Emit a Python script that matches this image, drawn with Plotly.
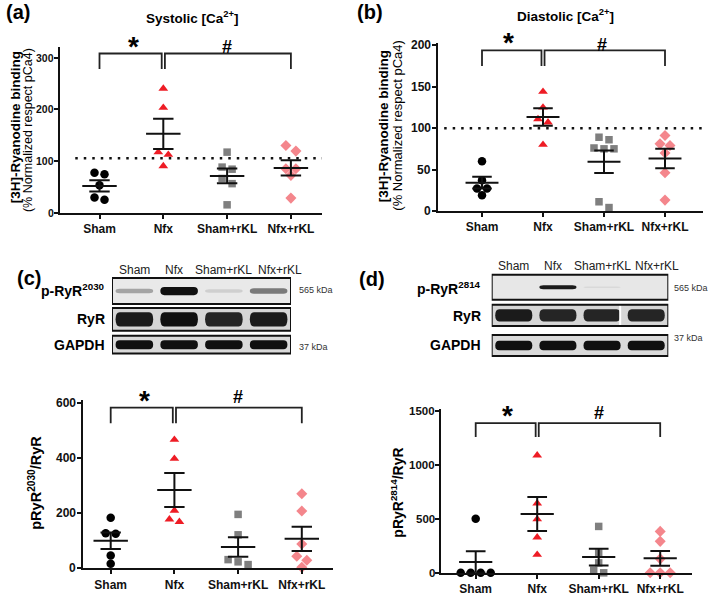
import numpy as np
import plotly.graph_objects as go

W, H = 709, 596
FONT = "Liberation Sans, Arial, Helvetica, sans-serif"

# ---------------- data ----------------
groups = ["Sham", "Nfx", "Sham+rKL", "Nfx+rKL"]

sys_sham = [77, 74, 53, 29, 25]
sys_nfx = [240, 203, 117, 112, 90]
sys_shamrkl = [117, 88, 84, 66, 56, 15]
sys_nfxrkl = [130, 119, 85, 85, 72, 28]

dia_sham = [60, 37, 27, 27, 19]
dia_nfx = [144, 125, 111, 107, 80]
dia_shamrkl = [89, 86, 76, 75, 75, 11, 4]
dia_nfxrkl = [91, 81, 79, 70, 46, 13]

p2030_sham = [184, 128, 126, 47, 17]
p2030_nfx = [467, 398, 210, 178, 169]
p2030_shamrkl = [196, 122, 32, 24, 14]
p2030_nfxrkl = [271, 208, 89, 44, 30, 4]

p2814_sham = [499, 0, 0, 0, 0]
p2814_nfx = [1087, 643, 496, 328, 168]
p2814_shamrkl = [429, 184, 92, 25, 0]
p2814_nfxrkl = [383, 291, 129, 0, 0, 0]

yticks_a = [0, 100, 200, 300]
yticks_b = [0, 50, 100, 150, 200]
yticks_c = [0, 200, 400, 600]
yticks_d = [0, 500, 1000, 1500]

# western blot band intensities (0 = none, 1 = saturated), per lane
blot_c_pryr = [0.30, 1.00, 0.10, 0.50]
blot_c_ryr = [0.95, 1.00, 0.90, 0.95]
blot_c_gapdh = [1.00, 1.00, 1.00, 1.00]
blot_d_pryr = [0.00, 0.95, 0.05, 0.00]
blot_d_ryr = [0.95, 0.90, 0.90, 0.90]
blot_d_gapdh = [1.00, 1.00, 1.00, 1.00]

# ---------------- style ----------------
COLORS = ["#000000", "#EE1C25", "#7F7F7F", "#F4868C"]
SYMBOLS = ["circle", "triangle-up", "square", "diamond"]
SIZES = [8.5, 8.5, 7.5, 8.5]
LANE_LABEL_SHIFT = [0.0, -0.12, 0.0, 0.25]


def px(x):
    return x / W


def py(y):
    return 1 - y / H


panels = [
    dict(data=[sys_sham, sys_nfx, sys_shamrkl, sys_nfxrkl], xpx=(59.5, 322), ybot=214, ppu=0.52,
         yr=(0, 320), cat0=99.5, dcat=63.8, ticks=yticks_a, ref=105, ref_x0=-0.38,
         br=(308, 278), star=(133, 46), hsh=(227, 47), tfs=10.5, tgap=3.5),
    dict(data=[dia_sham, dia_nfx, dia_shamrkl, dia_nfxrkl], xpx=(437.7, 703), ybot=212.3, ppu=0.833,
         yr=(0, 203), cat0=482, dcat=61, ticks=yticks_b, ref=100, ref_x0=-0.62,
         br=(194, 175), star=(508, 42), hsh=(602, 45), tfs=12, tgap=4.5),
    dict(data=[p2030_sham, p2030_nfx, p2030_shamrkl, p2030_nfxrkl], xpx=(82.7, 333), ybot=572.3, ppu=0.2777,
         yr=(0, 610), cat0=110.7, dcat=63.7, ticks=yticks_c, ref=None, ref_x0=None,
         br=(583, 526), star=(144, 402), hsh=(238, 400), tfs=12, tgap=4.5),
    dict(data=[p2814_sham, p2814_nfx, p2814_shamrkl, p2814_nfxrkl], xpx=(441, 691.7), ybot=576.7, ppu=0.1089,
         yr=(0, 1515), cat0=475.7, dcat=61.5, ticks=yticks_d, ref=None, ref_x0=None,
         br=(1384, 1255), star=(507, 417), hsh=(599, 416), tfs=11.5, tgap=4),
]


def swarm(vals, ppu, dcat, d_px=10.0, thr_px=6.5):
    order = sorted(range(len(vals)), key=lambda k: -vals[k])
    rows = []
    for k in order:
        if rows and abs(vals[rows[-1][0]] - vals[k]) * ppu < thr_px:
            rows[-1].append(k)
        else:
            rows.append([k])
    offs = [0.0] * len(vals)
    for r in rows:
        n = len(r)
        for j, k in enumerate(r):
            offs[k] = (j - (n - 1) / 2) * d_px / dcat
    return offs


fig = go.Figure()
layout = dict(width=W, height=H, margin=dict(l=0, r=0, t=0, b=0, pad=0), showlegend=False,
              paper_bgcolor="white", plot_bgcolor="white", font=dict(family=FONT, color="#000"))
annotations = []
shapes = []

for idx, p in enumerate(panels, start=1):
    xa, ya = f"x{idx}", f"y{idx}"
    xr = ((p["xpx"][0] - p["cat0"]) / p["dcat"], (p["xpx"][1] - p["cat0"]) / p["dcat"])
    ytop = p["ybot"] - (p["yr"][1] - p["yr"][0]) * p["ppu"]
    layout[f"xaxis{idx}"] = dict(domain=[px(p["xpx"][0]), px(p["xpx"][1])], range=list(xr), anchor=ya,
                                 tickvals=[0, 1, 2, 3], ticktext=groups, showline=True, linewidth=2,
                                 linecolor="#111", ticks="outside", ticklen=4, tickwidth=2, tickcolor="#111",
                                 showgrid=False, zeroline=False,
                                 tickfont=dict(family=FONT, size=12, weight="bold", color="#111"))
    layout[f"yaxis{idx}"] = dict(domain=[py(p["ybot"]), py(ytop)], range=list(p["yr"]), anchor=xa,
                                 tickvals=p["ticks"], showline=True, linewidth=2, linecolor="#111",
                                 ticks="outside", ticklen=4, tickwidth=2, tickcolor="#111",
                                 showgrid=False, zeroline=False, showticklabels=False)
    # y tick labels, placed right against the tick marks
    for tv in p["ticks"]:
        annotations.append(dict(text=f"<b>{tv}</b>", x=px(p["xpx"][0] - p["tgap"]), y=tv, xref="paper",
                                yref=ya, showarrow=False, xanchor="right", yanchor="middle",
                                font=dict(family=FONT, size=p["tfs"], color="#111")))
    # reference dotted line
    if p["ref"] is not None:
        fig.add_trace(go.Scatter(x=[p["ref_x0"], xr[1]], y=[p["ref"], p["ref"]], mode="lines",
                                 line=dict(color="#111", width=2.5, dash="2.5px,6px"),
                                 xaxis=xa, yaxis=ya, hoverinfo="skip"))
    for g, vals in enumerate(p["data"]):
        offs = swarm(vals, p["ppu"], p["dcat"])
        fig.add_trace(go.Scatter(x=[g + o for o in offs], y=vals, mode="markers",
                                 marker=dict(symbol=SYMBOLS[g], color=COLORS[g], size=SIZES[g],
                                             line=dict(width=0)),
                                 xaxis=xa, yaxis=ya, cliponaxis=False, name=groups[g]))
    for g, vals in enumerate(p["data"]):
        v = np.array(vals, dtype=float)
        m = v.mean()
        s = v.std(ddof=1) / np.sqrt(len(v))
        mh, ch = 0.27, 0.16
        fig.add_trace(go.Scatter(
            x=[g - mh, g + mh, None, g - ch, g + ch, None, g - ch, g + ch, None, g, g],
            y=[m, m, None, m + s, m + s, None, m - s, m - s, None, m - s, m + s],
            mode="lines", line=dict(color="#111", width=2), xaxis=xa, yaxis=ya,
            cliponaxis=False, hoverinfo="skip"))
    hi, lo = p["br"]
    fig.add_trace(go.Scatter(x=[0, 0, 0.975, 0.975, None, 1.025, 1.025, 3, 3],
                             y=[lo, hi, hi, lo, None, lo, hi, hi, lo], mode="lines",
                             line=dict(color="#222", width=1.8), xaxis=xa, yaxis=ya,
                             cliponaxis=False, hoverinfo="skip"))
    sx, sy = p["star"]
    annotations.append(dict(text="<b>*</b>", x=px(sx), y=py(sy + 1), xref="paper", yref="paper",
                            showarrow=False, font=dict(size=28, family=FONT), xanchor="center",
                            yanchor="middle"))
    hx, hy = p["hsh"]
    annotations.append(dict(text="<b>#</b>", x=px(hx), y=py(hy), xref="paper", yref="paper",
                            showarrow=False, font=dict(size=18, family=FONT), xanchor="center",
                            yanchor="middle"))


def ann(text, x, y, size, xanchor="center", angle=0, color="#000"):
    annotations.append(dict(text=text, x=px(x), y=py(y), xref="paper", yref="paper", showarrow=False,
                            font=dict(size=size, family=FONT, color=color), xanchor=xanchor,
                            yanchor="middle", textangle=angle))


# titles / panel letters / axis titles
ann("<b>Systolic [Ca<sup>2+</sup>]</b>", 192, 17, 13.5)
ann("<b>Diastolic [Ca<sup>2+</sup>]</b>", 565, 15, 13.5)
ann("<b>(a)</b>", 17.5, 12, 20)
ann("<b>(b)</b>", 369.5, 12, 20)
ann("<b>(c)</b>", 28.5, 280, 20)
ann("<b>(d)</b>", 372, 281, 20)
ann("<b>[3H]-Ryanodine binding</b>", 15, 128, 13.5, angle=-90)
ann("(% Normalized respect pCa4)", 28, 131, 12.5, angle=-90)
ann("<b>[3H]-Ryanodine binding</b>", 383, 127, 13.5, angle=-90)
ann("(% Normalized respect pCa4)", 397.5, 126, 13, angle=-90)
ann("<b>pRyR<sup>2030</sup>/RyR</b>", 35, 486, 14.5, angle=-90)
ann("<b>pRyR<sup>2814</sup>/RyR</b>", 397, 496, 14, angle=-90)

# ---------------- western blots ----------------
blots = [
    dict(ax=5, xpx=(112, 291), rows=[(280, 306), (310, 333), (338, 356)],
         bands=[blot_c_pryr, blot_c_ryr, blot_c_gapdh], thick=[0.32, 0.62, 0.5],
         bg=["#e9e9e9", "#d6d6d6", "#dadada"], lane_y=272,
         labels=["<b>p-RyR<sup>2030</sup></b>", "<b>RyR</b>", "<b>GAPDH</b>"], label_x=107,
         label_y=[292, 321.5, 347], kda=[("565 kDa", 297, 292), ("37 kDa", 297, 349)], splice=None),
    dict(ax=6, xpx=(491.7, 668.3), rows=[(276.7, 301.7), (306.7, 328.3), (337.3, 358.3)],
         bands=[blot_d_pryr, blot_d_ryr, blot_d_gapdh], thick=[0.16, 0.56, 0.45],
         bg=["#e7e7e7", "#d6d6d6", "#dadada"], lane_y=268,
         labels=["<b>p-RyR<sup>2814</sup></b>", "<b>RyR</b>", "<b>GAPDH</b>"], label_x=483,
         label_y=[290, 318, 347], kda=[("565 kDa", 672, 290), ("37 kDa", 672, 340)], splice=2.41),
]

for b in blots:
    a = b["ax"]
    xa, ya = f"x{a}", f"y{a}"
    layout[f"xaxis{a}"] = dict(domain=[px(b["xpx"][0]), px(b["xpx"][1])], range=[-0.5, 3.5],
                               visible=False, anchor=ya)
    layout[f"yaxis{a}"] = dict(domain=[py(b["rows"][-1][1]), py(b["rows"][0][0])], range=[0, 1],
                               visible=False, anchor=xa)
    fig.add_trace(go.Scatter(x=[None], y=[None], xaxis=xa, yaxis=ya, hoverinfo="skip"))
    for r, (y0, y1) in enumerate(b["rows"]):
        shapes.append(dict(type="rect", xref=xa, yref="paper", x0=-0.5, x1=3.5, y0=py(y1), y1=py(y0),
                           fillcolor=b["bg"][r], line=dict(width=0), layer="below"))
        yc = (y0 + y1) / 2
        rh = (y1 - y0)
        for lane, v in enumerate(b["bands"][r]):
            if v <= 0.02:
                continue
            t = rh * b["thick"][r] * ((0.35 + 0.65 * v) if r == 0 else 1.0)
            gl = int(round(228 - 212 * v))
            col = f"rgb({gl},{gl},{gl})"
            x0, x1 = lane - 0.42, lane + 0.42
            rr = 0.09
            ya0, ya1, yam = py(yc + t / 2), py(yc - t / 2), py(yc)
            path = (f"M {x0 + rr},{ya1} L {x1 - rr},{ya1} Q {x1},{ya1} {x1},{yam} "
                    f"Q {x1},{ya0} {x1 - rr},{ya0} L {x0 + rr},{ya0} Q {x0},{ya0} {x0},{yam} "
                    f"Q {x0},{ya1} {x0 + rr},{ya1} Z")
            shapes.append(dict(type="path", xref=xa, yref="paper", path=path, fillcolor=col,
                               line=dict(width=0)))
        if b["splice"] is not None and r == 1:
            shapes.append(dict(type="line", xref=xa, yref="paper", x0=b["splice"], x1=b["splice"],
                               y0=py(y1), y1=py(y0), line=dict(color="white", width=2)))
        shapes.append(dict(type="rect", xref=xa, yref="paper", x0=-0.5, x1=3.5, y0=py(y1), y1=py(y0),
                           fillcolor="rgba(0,0,0,0)", line=dict(color="#111", width=2)))
    for lane, g in enumerate(groups):
        annotations.append(dict(text=g, x=lane + LANE_LABEL_SHIFT[lane], y=py(b["lane_y"]), xref=xa,
                                yref="paper", showarrow=False,
                                font=dict(size=12, family=FONT, color="#222"),
                                xanchor="center", yanchor="middle"))
    for t, yy in zip(b["labels"], b["label_y"]):
        ann(t, b["label_x"], yy, 14, xanchor="right")
    for t, xx, yy in b["kda"]:
        ann(t, xx, yy, 9, xanchor="left", color="#333")

layout["annotations"] = annotations
layout["shapes"] = shapes
fig.update_layout(**layout)
fig.write_html("out.html", config={"displayModeBar": False},
               post_script="document.body.style.margin='0';document.body.style.overflow='hidden';")
